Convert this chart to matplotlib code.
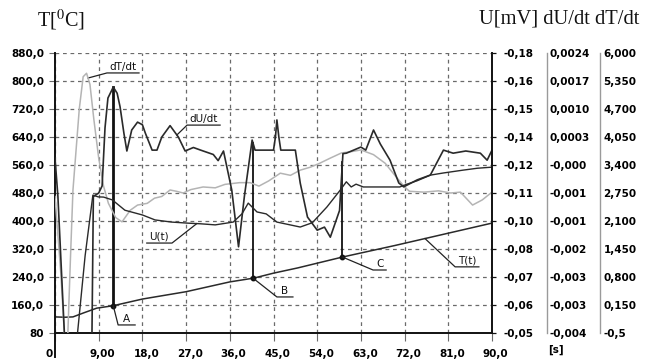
import numpy as np
import matplotlib
matplotlib.use("Agg")
import matplotlib.pyplot as plt
from matplotlib.transforms import ScaledTranslation

plt.rcParams['mathtext.fontset'] = 'stix'

# ---------------- data ----------------
# time [s]
x_ticks = [0, 9, 18, 27, 36, 45, 54, 63, 72, 81, 90]
x_ticklabels = ["0", "9,00", "18,0", "27,0", "36,0", "45,0", "54,0", "63,0", "72,0", "81,0", "90,0"]

# temperature axis (left)
T_ticks = [80, 160, 240, 320, 400, 480, 560, 640, 720, 800, 880]
T_ticklabels = ["80", "160,0", "240,0", "320,0", "400,0", "480,0", "560,0", "640,0", "720,0", "800,0", "880,0"]

# right-side scales (bottom -> top)
U_ticklabels = ["-0,05", "-0,06", "-0,07", "-0,08", "-0,10", "-0,11", "-0,12", "-0,14", "-0,15", "-0,16", "-0,18"]
dU_ticklabels = ["-0,004", "-0,003", "-0,003", "-0,002", "-0,001", "-0,001", "-0,000", "0,0003", "0,0010", "0,0017", "0,0024"]
dT_ticklabels = ["-0,5", "0,150", "0,800", "1,450", "2,100", "2,750", "3,400", "4,050", "4,700", "5,350", "6,000"]

# T(t) [deg C]
t_T = [0.0, 2.0, 3.7, 6.0, 8.6, 12.0, 18.0, 27.0, 36.0, 41.0, 45.0, 50.0, 59.2, 70.0, 80.0, 90.0]
T_vals = [126, 125, 126, 138, 151, 158, 177, 198, 226, 237, 251, 266, 297, 330, 362, 394]

# U(t) [mV]
t_U = [4.5, 6.2, 7.8, 8.9, 10.0, 11.8, 14.4, 18.0, 20.6, 24.0, 27.4, 30.0, 33.0, 36.7, 38.5, 39.8,
       41.6, 43.5, 45.7, 48.0, 50.5, 53.0, 56.0, 58.8, 60.0, 61.0, 62.0, 63.5, 65.6, 71.0, 72.5,
       74.6, 77.3, 80.0, 84.0, 87.0, 90.0]
U_vals = [-0.0468, -0.0858, -0.1140, -0.1132, -0.1131, -0.1118, -0.1070, -0.1048, -0.1025, -0.1015,
          -0.1010, -0.1007, -0.1002, -0.1015, -0.1053, -0.1103, -0.1062, -0.1053, -0.1015, -0.1004,
          -0.0992, -0.1012, -0.1085, -0.1165, -0.1202, -0.1178, -0.1191, -0.1178, -0.1178, -0.1178,
          -0.1191, -0.1207, -0.1233, -0.1243, -0.1256, -0.1265, -0.1270]

# dU/dt
t_dU = [0.0, 0.6, 2.0, 7.6, 7.9, 9.0, 9.7, 10.3, 10.9, 12.0, 12.8, 13.4, 14.2, 14.8, 15.8, 17.0,
        18.0, 18.6, 20.0, 21.0, 22.0, 23.7, 25.4, 26.8, 28.5, 30.0, 32.6, 33.6, 34.7, 36.4, 37.8,
        39.0, 40.6, 41.2, 45.0, 45.4, 45.7, 46.1, 46.5, 49.5, 50.5, 52.0, 54.0, 55.5, 56.7, 58.6,
        59.3, 60.0, 61.5, 63.0, 64.0, 65.6, 67.0, 69.0, 70.8, 71.8, 74.6, 77.3, 80.0, 82.0, 84.6,
        87.6, 89.0, 90.0]
dU_vals = [0.0000, -0.00088, -0.00416, -0.00416, -0.00088, -0.00080, -0.00064, 0.00069, 0.00137,
           0.00162, 0.00148, 0.00117, 0.00056, 0.00016, 0.00064, 0.00082, 0.00076, 0.00057, 0.00018,
           0.00018, 0.00048, 0.00074, 0.00048, 0.00016, 0.00024, 0.00018, 0.00008, -0.00006, 0.00016,
           -0.00073, -0.00203, -0.00088, 0.00041, 0.00018, 0.00018, 0.00048, 0.00087, 0.00048, 0.00018,
           0.00018, -0.00057, -0.00135, -0.00165, -0.00158, -0.00181, -0.00120, 0.00010, 0.00011,
           0.00018, 0.00025, 0.00018, 0.00064, 0.00032, -0.00005, -0.00057, -0.00066, -0.00050,
           -0.00039, 0.00018, 0.00011, 0.00016, 0.00011, -0.00005, 0.00018]

# dT/dt
t_dT = [0.0, 1.2, 2.0, 2.6, 3.2, 3.7, 5.0, 5.8, 6.5, 7.2, 8.0, 9.0, 10.0, 11.0, 12.5, 13.8, 15.5,
        17.0, 19.0, 20.5, 22.0, 23.7, 25.0, 26.4, 28.0, 30.5, 33.0, 35.0, 38.0, 40.2, 42.0, 44.0,
        46.4, 48.5, 50.5, 52.6, 54.5, 56.7, 59.0, 61.0, 63.0, 65.6, 68.0, 70.0, 72.0, 73.0, 76.0,
        79.0, 81.5, 83.5, 86.0, 88.0, 90.0]
dT_vals = [2.67, 0.88, -0.66, -0.66, 1.29, 2.82, 4.70, 5.45, 5.53, 5.27, 4.46, 3.56, 2.91, 2.51,
           2.18, 2.08, 2.35, 2.47, 2.51, 2.63, 2.67, 2.82, 2.79, 2.75, 2.83, 2.89, 2.87, 2.95, 2.99,
           2.99, 2.91, 3.03, 3.21, 3.16, 3.28, 3.35, 3.44, 3.56, 3.68, 3.71, 3.75, 3.64, 3.44, 3.16,
           2.89, 2.79, 2.77, 2.80, 2.75, 2.77, 2.47, 2.59, 2.77]

# characteristic points
event_t = [12.0, 40.8, 59.2]
event_names = ["A", "B", "C"]

# ---------------- figure ----------------
W, H = 658, 359
fig = plt.figure(figsize=(W / 100, H / 100), dpi=100)
fig.patch.set_facecolor("white")

L, R, B, TOP = 55, 492, 333, 53
ax = fig.add_axes([L / W, 1 - B / H, (R - L) / W, (B - TOP) / H])

tick_font = dict(family="DejaVu Sans", weight="bold", size=7.5)
grid_color = "#6a6a6a"
dark = "#2a2a2a"

ax.set_xlim(0, 90)
ax.set_ylim(80, 880)
ax.set_xticks(x_ticks, labels=x_ticklabels)
ax.set_yticks(T_ticks, labels=T_ticklabels)
for lab in ax.get_xticklabels() + ax.get_yticklabels():
    lab.set_fontproperties(matplotlib.font_manager.FontProperties(**tick_font))
ax.tick_params(axis="y", length=4, width=0.8, color=grid_color, pad=3.8)
ax.tick_params(axis="x", length=6, width=0.8, color=grid_color, pad=5.5)
for lab in ax.get_xticklabels():
    lab.set_ha("left")
    lab.set_transform(lab.get_transform() + ScaledTranslation(-9 / 100, 0, fig.dpi_scale_trans))

ax.grid(True, linestyle=(0, (3, 3)), color=grid_color, linewidth=0.9)
ax.set_axisbelow(True)
ax.spines["top"].set_visible(False)
ax.spines["right"].set_visible(False)
ax.spines["left"].set_linewidth(1.4)
ax.spines["bottom"].set_linewidth(1.4)
ax.spines["left"].set_color("#111")
ax.spines["bottom"].set_color("#111")
# left axis line continues a bit below the time axis
ax.plot([0, 0], [0, -24 / (B - TOP)], transform=ax.transAxes, color="#111", lw=1.4, clip_on=False)

# twin axes for the right-hand scales
ax_dT = ax.twinx()
ax_dU = ax.twinx()
ax_U = ax.twinx()
for a in (ax_dT, ax_dU, ax_U):
    for s in ("left", "top", "bottom"):
        a.spines[s].set_visible(False)
    a.grid(False)

ax_U.set_ylim(-0.05, -0.18)
ax_U.set_yticks(np.linspace(-0.05, -0.18, len(U_ticklabels)), labels=U_ticklabels)
ax_U.spines["right"].set_linewidth(1.4)
ax_U.spines["right"].set_color("#111")
ax_U.tick_params(axis="y", length=3, width=0.9, color="#111", pad=5)

ax_dU.set_ylim(-0.004, 0.0024)
ax_dU.set_yticks(np.linspace(-0.004, 0.0024, len(dU_ticklabels)), labels=dU_ticklabels)
ax_dU.spines["right"].set_position(("axes", (547 - L) / (R - L)))
ax_dU.spines["right"].set_color("#9a9a9a")
ax_dU.spines["right"].set_linewidth(1.0)
ax_dU.tick_params(axis="y", length=0, pad=1.8)

ax_dT.set_ylim(-0.5, 6.0)
ax_dT.set_yticks(np.linspace(-0.5, 6.0, len(dT_ticklabels)), labels=dT_ticklabels)
ax_dT.spines["right"].set_position(("axes", (600 - L) / (R - L)))
ax_dT.spines["right"].set_color("#9a9a9a")
ax_dT.spines["right"].set_linewidth(1.0)
ax_dT.tick_params(axis="y", length=0, pad=2.6)

for a in (ax_dT, ax_dU, ax_U):
    for lab in a.get_yticklabels():
        lab.set_fontproperties(matplotlib.font_manager.FontProperties(**tick_font))

# ---------------- curves ----------------
ax_dT.plot(t_dT, dT_vals, color="#b4b4b4", lw=1.1)
ax_dU.plot(t_dU, dU_vals, color=dark, lw=1.2)
ax_U.plot(t_U, U_vals, color=dark, lw=1.0)
ax.plot(t_T, T_vals, color=dark, lw=1.1)


def to_main(a, x, y):
    disp = a.transData.transform((x, y))
    return ax.transData.inverted().transform(disp)


# vertical markers A, B, C from T(t) up to dU/dt
for i, (te, name) in enumerate(zip(event_t, event_names)):
    y0 = np.interp(te, t_T, T_vals)
    _, y1 = to_main(ax_dU, te, np.interp(te, t_dU, dU_vals))
    ax.plot([te, te], [y0, y1], color="#111", lw=2.0 if i == 0 else 1.3, zorder=5)
    ax.plot([te], [y0], "o", color="#111", ms=3.2, zorder=6)

# ---------------- callouts ----------------
label_font = dict(family="DejaVu Sans", size=7.5, color="#111")


def callout(anchor, elbow, end_x, text):
    ax.plot([anchor[0], elbow[0], end_x], [anchor[1], elbow[1], elbow[1]],
            color="#222", lw=0.9, zorder=7, clip_on=False)
    ax.annotate(text, xy=((elbow[0] + end_x) / 2, elbow[1]), xytext=(0, 0.8),
                textcoords="offset points", ha="center", va="bottom", zorder=8, **label_font)


a_dT = to_main(ax_dT, 6.8, np.interp(6.8, t_dT, dT_vals))
callout(a_dT, (10.7, 823), 17.3, "dT/dt")
a_dU = to_main(ax_dU, 25.1, np.interp(25.1, t_dU, dU_vals))
callout(a_dU, (27.2, 674), 34.0, "dU/dt")
a_U = to_main(ax_U, 29.2, np.interp(29.2, t_U, U_vals))
callout(a_U, (24.1, 337), 18.9, "U(t)")
callout((76.2, np.interp(76.2, t_T, T_vals)), (82.4, 269), 87.3, "T(t)")
elbows = [((13.0, 103), 16.5), ((45.7, 183), 49.0), ((65.5, 260), 68.2)]
for te, name, (el, ex) in zip(event_t, event_names, elbows):
    callout((te, np.interp(te, t_T, T_vals)), el, ex, name)

# ---------------- headers ----------------
fig.text(37 / W, 1 - 20 / H, r"T[$^{\mathrm{0}}$C]", family="Liberation Serif", size=14.5,
         ha="left", va="center", color="#111")
fig.text(479 / W, 1 - 19 / H, "U[mV] dU/dt dT/dt", family="Liberation Serif", size=14.8,
         ha="left", va="center", color="#111")
fig.text(548 / W, 1 - 350 / H, "[s]", ha="left", va="center", **tick_font)

fig.savefig("out.png", dpi=100, facecolor="white")
